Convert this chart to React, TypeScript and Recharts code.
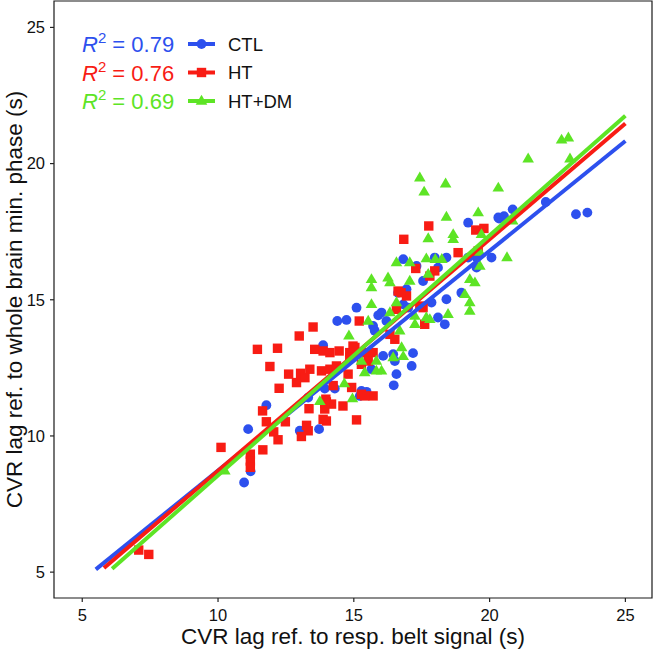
import { ScatterChart, Scatter, XAxis, YAxis, ReferenceArea, Legend } from 'recharts'

const BLUE = '#2d50ee'
const RED = '#f81c14'
const GREEN = '#5de425'
const FONT = '"Liberation Sans", Arial, Helvetica, sans-serif'

// CTL group (x: resp. belt lag, y: whole brain min. phase lag), seconds
const ctlPoints = [
  { x: 10.96, y: 8.29 }, { x: 11.11, y: 10.25 }, { x: 11.78, y: 11.13 }, { x: 11.2, y: 8.7 },
  { x: 13.01, y: 10.19 }, { x: 13.72, y: 10.25 }, { x: 13.32, y: 11.41 }, { x: 13.93, y: 11.74 },
  { x: 14.3, y: 11.74 }, { x: 13.87, y: 13.33 }, { x: 14.39, y: 14.22 }, { x: 14.73, y: 14.26 },
  { x: 15.1, y: 14.71 }, { x: 15.9, y: 14.43 }, { x: 16.02, y: 14.53 }, { x: 15.77, y: 13.86 },
  { x: 15.71, y: 14.04 }, { x: 16.2, y: 14.22 }, { x: 16.08, y: 12.94 }, { x: 16.45, y: 13.0 },
  { x: 17.18, y: 13.04 }, { x: 17.13, y: 12.57 }, { x: 16.57, y: 12.27 }, { x: 16.47, y: 11.86 },
  { x: 16.51, y: 12.75 }, { x: 15.65, y: 12.45 }, { x: 15.28, y: 11.65 }, { x: 15.47, y: 11.62 },
  { x: 15.22, y: 11.47 }, { x: 18.41, y: 15.02 }, { x: 17.86, y: 14.9 }, { x: 18.1, y: 14.35 },
  { x: 18.35, y: 14.1 }, { x: 16.82, y: 14.83 }, { x: 17.0, y: 14.71 }, { x: 18.96, y: 15.26 },
  { x: 19.21, y: 17.83 }, { x: 20.32, y: 18.02 }, { x: 20.07, y: 16.55 }, { x: 19.52, y: 16.55 },
  { x: 18.41, y: 16.55 }, { x: 17.98, y: 16.55 }, { x: 17.55, y: 15.69 }, { x: 16.94, y: 15.39 },
  { x: 16.63, y: 15.26 }, { x: 17.31, y: 16.24 }, { x: 18.1, y: 16.18 }, { x: 19.52, y: 16.18 },
  { x: 22.07, y: 18.59 }, { x: 23.18, y: 18.14 }, { x: 23.6, y: 18.2 }, { x: 20.35, y: 17.98 },
  { x: 20.53, y: 18.07 }, { x: 20.85, y: 18.32 }, { x: 19.21, y: 16.55 }, { x: 16.82, y: 16.49 },
]

// HT group
const htPoints = [
  { x: 7.08, y: 5.81 }, { x: 7.45, y: 5.65 }, { x: 10.11, y: 9.58 }, { x: 11.19, y: 9.33 },
  { x: 11.19, y: 9.08 }, { x: 11.19, y: 8.85 }, { x: 11.65, y: 9.49 }, { x: 11.64, y: 10.92 },
  { x: 11.78, y: 10.52 }, { x: 12.05, y: 10.15 }, { x: 12.21, y: 9.86 }, { x: 12.48, y: 10.52 },
  { x: 12.25, y: 11.75 }, { x: 11.91, y: 12.55 }, { x: 11.45, y: 13.18 }, { x: 12.19, y: 13.22 },
  { x: 12.99, y: 13.67 }, { x: 13.5, y: 14.0 }, { x: 12.6, y: 12.27 }, { x: 12.89, y: 11.96 },
  { x: 13.04, y: 12.3 }, { x: 13.38, y: 12.45 }, { x: 13.56, y: 13.18 }, { x: 13.87, y: 13.12 },
  { x: 14.12, y: 13.06 }, { x: 14.46, y: 13.12 }, { x: 13.81, y: 12.39 }, { x: 14.12, y: 12.45 },
  { x: 14.36, y: 12.57 }, { x: 14.79, y: 12.27 }, { x: 14.24, y: 11.85 }, { x: 13.99, y: 11.25 },
  { x: 14.18, y: 11.17 }, { x: 13.97, y: 11.35 }, { x: 13.35, y: 11.0 }, { x: 13.93, y: 10.99 },
  { x: 14.6, y: 11.1 }, { x: 13.87, y: 10.61 }, { x: 13.99, y: 10.55 }, { x: 13.26, y: 10.39 },
  { x: 13.32, y: 10.19 }, { x: 13.07, y: 9.98 }, { x: 13.2, y: 12.14 }, { x: 15.2, y: 14.22 },
  { x: 14.85, y: 13.06 }, { x: 15.16, y: 13.0 }, { x: 15.47, y: 13.06 }, { x: 15.71, y: 13.06 },
  { x: 15.53, y: 12.75 }, { x: 16.33, y: 13.73 }, { x: 16.51, y: 13.55 }, { x: 16.57, y: 14.65 },
  { x: 17.61, y: 14.1 }, { x: 17.43, y: 14.77 }, { x: 15.28, y: 12.63 }, { x: 14.92, y: 11.78 },
  { x: 15.28, y: 11.53 }, { x: 15.71, y: 11.47 }, { x: 15.4, y: 11.47 }, { x: 13.93, y: 11.2 },
  { x: 15.1, y: 10.59 }, { x: 15.04, y: 13.25 }, { x: 14.85, y: 12.88 }, { x: 16.63, y: 15.32 },
  { x: 16.94, y: 15.14 }, { x: 17.55, y: 14.71 }, { x: 17.76, y: 17.71 }, { x: 16.84, y: 17.22 },
  { x: 19.49, y: 17.56 }, { x: 19.79, y: 17.62 }, { x: 18.84, y: 16.73 }, { x: 17.28, y: 16.15 },
  { x: 17.98, y: 16.06 }, { x: 17.8, y: 15.87 }, { x: 16.74, y: 15.26 }, { x: 19.58, y: 16.79 },
  { x: 14.97, y: 13.3 },
]

// HT+DM group
const htdmPoints = [
  { x: 10.25, y: 8.72 }, { x: 13.75, y: 11.27 }, { x: 14.65, y: 11.92 }, { x: 14.82, y: 13.68 },
  { x: 15.65, y: 14.83 }, { x: 15.53, y: 14.22 }, { x: 16.33, y: 14.53 }, { x: 16.57, y: 14.9 },
  { x: 16.69, y: 13.86 }, { x: 17.25, y: 14.1 }, { x: 17.8, y: 14.28 }, { x: 18.47, y: 14.47 },
  { x: 19.27, y: 14.9 }, { x: 19.27, y: 14.59 }, { x: 16.76, y: 13.25 }, { x: 15.28, y: 12.75 },
  { x: 15.83, y: 12.75 }, { x: 16.45, y: 12.88 }, { x: 16.82, y: 12.92 }, { x: 15.4, y: 12.33 },
  { x: 15.83, y: 12.39 }, { x: 16.02, y: 12.39 }, { x: 14.95, y: 11.37 }, { x: 19.09, y: 15.2 },
  { x: 17.43, y: 19.48 }, { x: 18.38, y: 19.26 }, { x: 17.59, y: 18.96 }, { x: 18.41, y: 18.04 },
  { x: 19.58, y: 18.2 }, { x: 18.66, y: 17.4 }, { x: 18.66, y: 17.22 }, { x: 17.74, y: 17.25 },
  { x: 19.7, y: 17.4 }, { x: 16.57, y: 16.37 }, { x: 17.06, y: 16.37 }, { x: 17.67, y: 16.51 },
  { x: 18.0, y: 16.49 }, { x: 18.24, y: 16.49 }, { x: 15.65, y: 15.75 }, { x: 15.65, y: 15.45 },
  { x: 16.26, y: 15.81 }, { x: 16.33, y: 15.63 }, { x: 17.06, y: 15.69 }, { x: 17.74, y: 15.94 },
  { x: 19.27, y: 15.75 }, { x: 19.46, y: 15.63 }, { x: 19.64, y: 16.24 }, { x: 20.32, y: 19.11 },
  { x: 21.42, y: 20.18 }, { x: 22.65, y: 20.87 }, { x: 22.9, y: 20.95 }, { x: 22.96, y: 20.18 },
  { x: 20.64, y: 16.55 }, { x: 20.85, y: 17.9 }, { x: 17.25, y: 14.4 }, { x: 17.67, y: 14.35 },
  { x: 19.64, y: 16.75 },
]

// linear fit end points
const ctlFit = [{ x: 5.5, y: 5.1 }, { x: 25.0, y: 20.83 }]
const htFit = [{ x: 5.8, y: 5.15 }, { x: 25.0, y: 21.47 }]
const htdmFit = [{ x: 6.1, y: 5.12 }, { x: 25.0, y: 21.76 }]

const groupNames = ['CTL', 'HT', 'HT+DM']
const groupR2 = ['0.79', '0.76', '0.69']
const groupColors = [BLUE, RED, GREEN]

const xTicks = [5, 10, 15, 20, 25]
const yTicks = [5, 10, 15, 20, 25]
const X_DOMAIN: [number, number] = [3.96, 25.98]
const Y_DOMAIN: [number, number] = [4.05, 25.97]

const circleShape = (color: string) => (p: any) => <circle cx={p.cx} cy={p.cy} r={4.9} fill={color} />
const squareShape = (color: string) => (p: any) => (
  <rect x={p.cx - 4.7} y={p.cy - 4.7} width={9.4} height={9.4} fill={color} />
)
const triangleShape = (color: string) => (p: any) => (
  <polygon
    points={`${p.cx - 5.8},${p.cy + 3.7} ${p.cx + 5.8},${p.cy + 3.7} ${p.cx},${p.cy - 6.2}`}
    fill={color}
  />
)
const noShape = () => <g />

function KeyMarker({ i, cx, cy }: { i: number; cx: number; cy: number }) {
  const c = groupColors[i]
  if (i === 0) return <circle cx={cx} cy={cy} r={4.9} fill={c} />
  if (i === 1) return <rect x={cx - 4.7} y={cy - 4.7} width={9.4} height={9.4} fill={c} />
  return <polygon points={`${cx - 5.8},${cy + 3.7} ${cx + 5.8},${cy + 3.7} ${cx},${cy - 6.2}`} fill={c} />
}

function FitLegend() {
  return (
    <svg width={320} height={120} style={{ display: 'block', fontFamily: FONT }}>
      {groupNames.map((name, i) => {
        const cy = 44 + i * 28.5
        return (
          <g key={name}>
            <text x={82} y={cy + 8} fontSize={22} fill={groupColors[i]}>
              <tspan fontStyle="italic">R</tspan>
              <tspan fontSize={15} dy={-9}>2</tspan>
              <tspan dy={9}>{` = ${groupR2[i]}`}</tspan>
            </text>
            <line x1={188} x2={215} y1={cy} y2={cy} stroke={groupColors[i]} strokeWidth={4} />
            <KeyMarker i={i} cx={201.5} cy={cy} />
            <text x={228} y={cy + 6.5} fontSize={18.5} fill="#111">
              {name}
            </text>
          </g>
        )
      })}
    </svg>
  )
}

export default function App() {
  return (
    <div style={{ position: 'absolute', left: 0, top: 0 }}>
      <ScatterChart
        width={654}
        height={651}
        margin={{ top: 1, right: 2, bottom: 0, left: 0 }}
        style={{ fontFamily: FONT }}
      >
        <XAxis
          type="number"
          dataKey="x"
          domain={X_DOMAIN}
          allowDataOverflow
          ticks={xTicks}
          height={53}
          axisLine={false}
          tickSize={4}
          tickMargin={7}
          tickLine={{ stroke: '#222', strokeWidth: 1.2 }}
          tick={{ fill: '#111', fontSize: 16.5 }}
          label={{
            value: 'CVR lag ref. to resp. belt signal (s)',
            position: 'insideBottom',
            offset: 7,
            fontSize: 22.5,
            fill: '#111',
          }}
        />
        <YAxis
          type="number"
          dataKey="y"
          domain={Y_DOMAIN}
          allowDataOverflow
          ticks={yTicks}
          width={54}
          axisLine={false}
          tickSize={4}
          tickMargin={5}
          tickLine={{ stroke: '#222', strokeWidth: 1.2 }}
          tick={{ fill: '#111', fontSize: 16.5 }}
          label={{
            value: 'CVR lag ref. to whole brain min. phase (s)',
            angle: -90,
            position: 'insideLeft',
            offset: 14,
            fontSize: 22.5,
            fill: '#111',
            style: { textAnchor: 'middle' },
          }}
        />
        <ReferenceArea
          x1={X_DOMAIN[0]}
          x2={X_DOMAIN[1]}
          y1={Y_DOMAIN[0]}
          y2={Y_DOMAIN[1]}
          fill="none"
          stroke="#1a1a1a"
          strokeWidth={1.2}
          ifOverflow="visible"
        />
        <Scatter data={ctlPoints} shape={circleShape(BLUE)} legendType="none" isAnimationActive={false} />
        <Scatter data={htPoints} shape={squareShape(RED)} legendType="none" isAnimationActive={false} />
        <Scatter data={htdmPoints} shape={triangleShape(GREEN)} legendType="none" isAnimationActive={false} />
        <Scatter data={ctlFit} line={{ stroke: BLUE, strokeWidth: 4 }} shape={noShape} legendType="none" isAnimationActive={false} />
        <Scatter data={htFit} line={{ stroke: RED, strokeWidth: 4 }} shape={noShape} legendType="none" isAnimationActive={false} />
        <Scatter data={htdmFit} line={{ stroke: GREEN, strokeWidth: 4 }} shape={noShape} legendType="none" isAnimationActive={false} />
        <Legend
          layout="vertical"
          align="center"
          verticalAlign="middle"
          content={() => <FitLegend />}
          wrapperStyle={{ position: 'absolute', left: 0, top: 0, width: 320, height: 120 }}
        />
      </ScatterChart>
    </div>
  )
}
